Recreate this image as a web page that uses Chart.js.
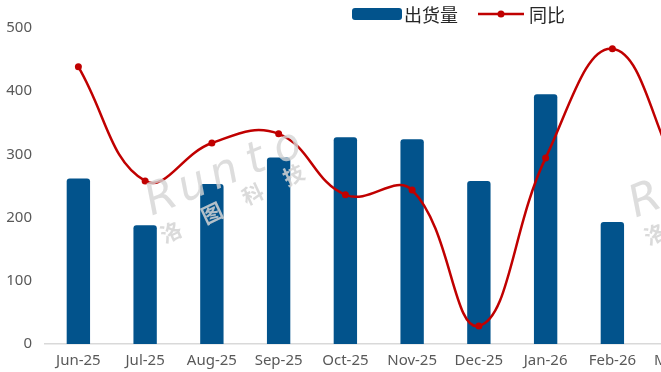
<!DOCTYPE html>
<html>
<head>
<meta charset="utf-8">
<script src="https://cdn.jsdelivr.net/npm/chart.js@4/dist/chart.umd.min.js"></script>
<style>
  html, body { margin: 0; padding: 0; background: #fff; overflow: hidden; width: 661px; height: 372px; }
  canvas { display: block; }
</style>
</head>
<body>
<canvas id="shipChart" width="917" height="372"></canvas>
<script>
// months (the source chart runs past the right edge of the picture)
const months = ['Jun-25', 'Jul-25', 'Aug-25', 'Sep-25', 'Oct-25', 'Nov-25', 'Dec-25', 'Jan-26', 'Feb-26', 'Mar-26', 'Apr-26', 'May-26'];
// 出货量 (left axis)
const shipments = [262, 188, 253, 295, 327, 324, 258, 395, 193, 300, null, null];
// 同比 in % (right axis, cropped out of the picture)
const yoy = [47.7, 11.6, 23.6, 26.5, 7.2, 8.7, -34.3, 18.9, 53.4, 13.5, null, null];
const leftTicks = [0, 100, 200, 300, 400, 500];

const BLUE = '#02538c';
const RED = '#c00000';

Chart.defaults.font.family = "'Noto Sans', 'Noto Sans CJK SC', sans-serif";

// hand drawn legend: box + line-with-dot, like the office chart
const legendPlugin = {
    id: 'officeLegend',
    afterDraw(chart) {
        const ctx = chart.ctx;
        ctx.save();
        ctx.font = "18px 'Noto Sans CJK SC', sans-serif";
        ctx.textBaseline = 'middle';
        const t1 = '出货量', t2 = '同比';
        const w1 = ctx.measureText(t1).width, w2 = ctx.measureText(t2).width;
        const total = 50 + 2 + w1 + 20 + 46 + 5 + w2;
        let x = chart.width / 2 - total / 2;
        const cy = 14;

        ctx.fillStyle = BLUE;
        ctx.beginPath();
        ctx.roundRect(x, cy - 6, 50, 12, 3);
        ctx.fill();
        x += 52;
        ctx.fillStyle = '#262626';
        ctx.fillText(t1, x, cy + 1);
        x += w1 + 20;

        ctx.strokeStyle = RED;
        ctx.lineWidth = 2.5;
        ctx.beginPath();
        ctx.moveTo(x, cy);
        ctx.lineTo(x + 46, cy);
        ctx.stroke();
        ctx.fillStyle = RED;
        ctx.beginPath();
        ctx.arc(x + 23, cy, 3.5, 0, Math.PI * 2);
        ctx.fill();
        x += 51;
        ctx.fillStyle = '#262626';
        ctx.fillText(t2, x, cy + 1);
        ctx.restore();
    }
};

// faint "Runto 洛图科技" watermark, drawn over the marks
const watermarkPlugin = {
    id: 'watermark',
    afterDatasetsDraw(chart) {
        const ctx = chart.ctx;
        const spots = [[0, 0], [484, 2]];
        ctx.save();
        ctx.textAlign = 'center';
        spots.forEach(([dx, dy]) => {
            ctx.save();
            ctx.translate(166 + dx, 210 + dy);
            ctx.rotate(-22 * Math.PI / 180);
            ctx.fillStyle = 'rgba(212,212,212,0.8)';
            ctx.font = "italic 300 44px 'DejaVu Sans', sans-serif";
            ctx.textBaseline = 'alphabetic';
            'Runto'.split('').forEach((ch, i) => ctx.fillText(ch, i * 34, 0));
            ctx.restore();

            ctx.save();
            ctx.translate(171 + dx, 232 + dy);
            ctx.rotate(-25 * Math.PI / 180);
            ctx.fillStyle = 'rgba(212,212,212,0.85)';
            ctx.font = "bold 21px 'Noto Sans CJK SC', sans-serif";
            ctx.textBaseline = 'middle';
            '洛图科技'.split('').forEach((ch, i) => ctx.fillText(ch, i * 45, 0));
            ctx.restore();
        });
        ctx.restore();
    }
};

new Chart(document.getElementById('shipChart'), {
    data: {
        labels: months,
        datasets: [
            {
                type: 'line',
                label: '同比',
                data: yoy,
                yAxisID: 'y1',
                borderColor: RED,
                backgroundColor: RED,
                borderWidth: 2.5,
                pointRadius: 3.5,
                pointBackgroundColor: RED,
                pointBorderWidth: 0,
                tension: 0.42,
                order: 0
            },
            {
                type: 'bar',
                label: '出货量',
                data: shipments,
                yAxisID: 'y',
                backgroundColor: BLUE,
                borderRadius: { topLeft: 3, topRight: 3 },
                borderSkipped: 'bottom',
                categoryPercentage: 1,
                barPercentage: 0.35,
                order: 1
            }
        ]
    },
    options: {
        responsive: false,
        animation: false,
        devicePixelRatio: 1,
        layout: { padding: { top: 28, left: 0, right: 0, bottom: 0 } },
        plugins: {
            legend: { display: false },
            tooltip: { enabled: false }
        },
        scales: {
            x: {
                grid: { display: false, drawTicks: false },
                border: { display: true, color: '#d9d9d9', width: 1.5 },
                ticks: { color: '#595959', font: { size: 15 }, padding: 8, maxRotation: 0, autoSkip: false },
                afterFit(scale) { scale.height = 28; }
            },
            y: {
                position: 'left',
                min: 0,
                max: 500,
                afterBuildTicks(scale) { scale.ticks = leftTicks.map(v => ({ value: v })); },
                grid: { display: false, drawTicks: false },
                border: { display: false },
                ticks: { color: '#595959', font: { size: 15 }, padding: 13 },
                afterFit(scale) { scale.width = 45; }
            },
            y1: {
                position: 'right',
                min: -40,
                max: 60,
                grid: { display: false, drawTicks: false },
                border: { display: false },
                ticks: { stepSize: 20, color: '#595959', font: { size: 15 }, padding: 13, callback: v => v + '%' },
                afterFit(scale) { scale.width = 71; }
            }
        }
    },
    plugins: [watermarkPlugin, legendPlugin]
});
</script>
</body>
</html>
